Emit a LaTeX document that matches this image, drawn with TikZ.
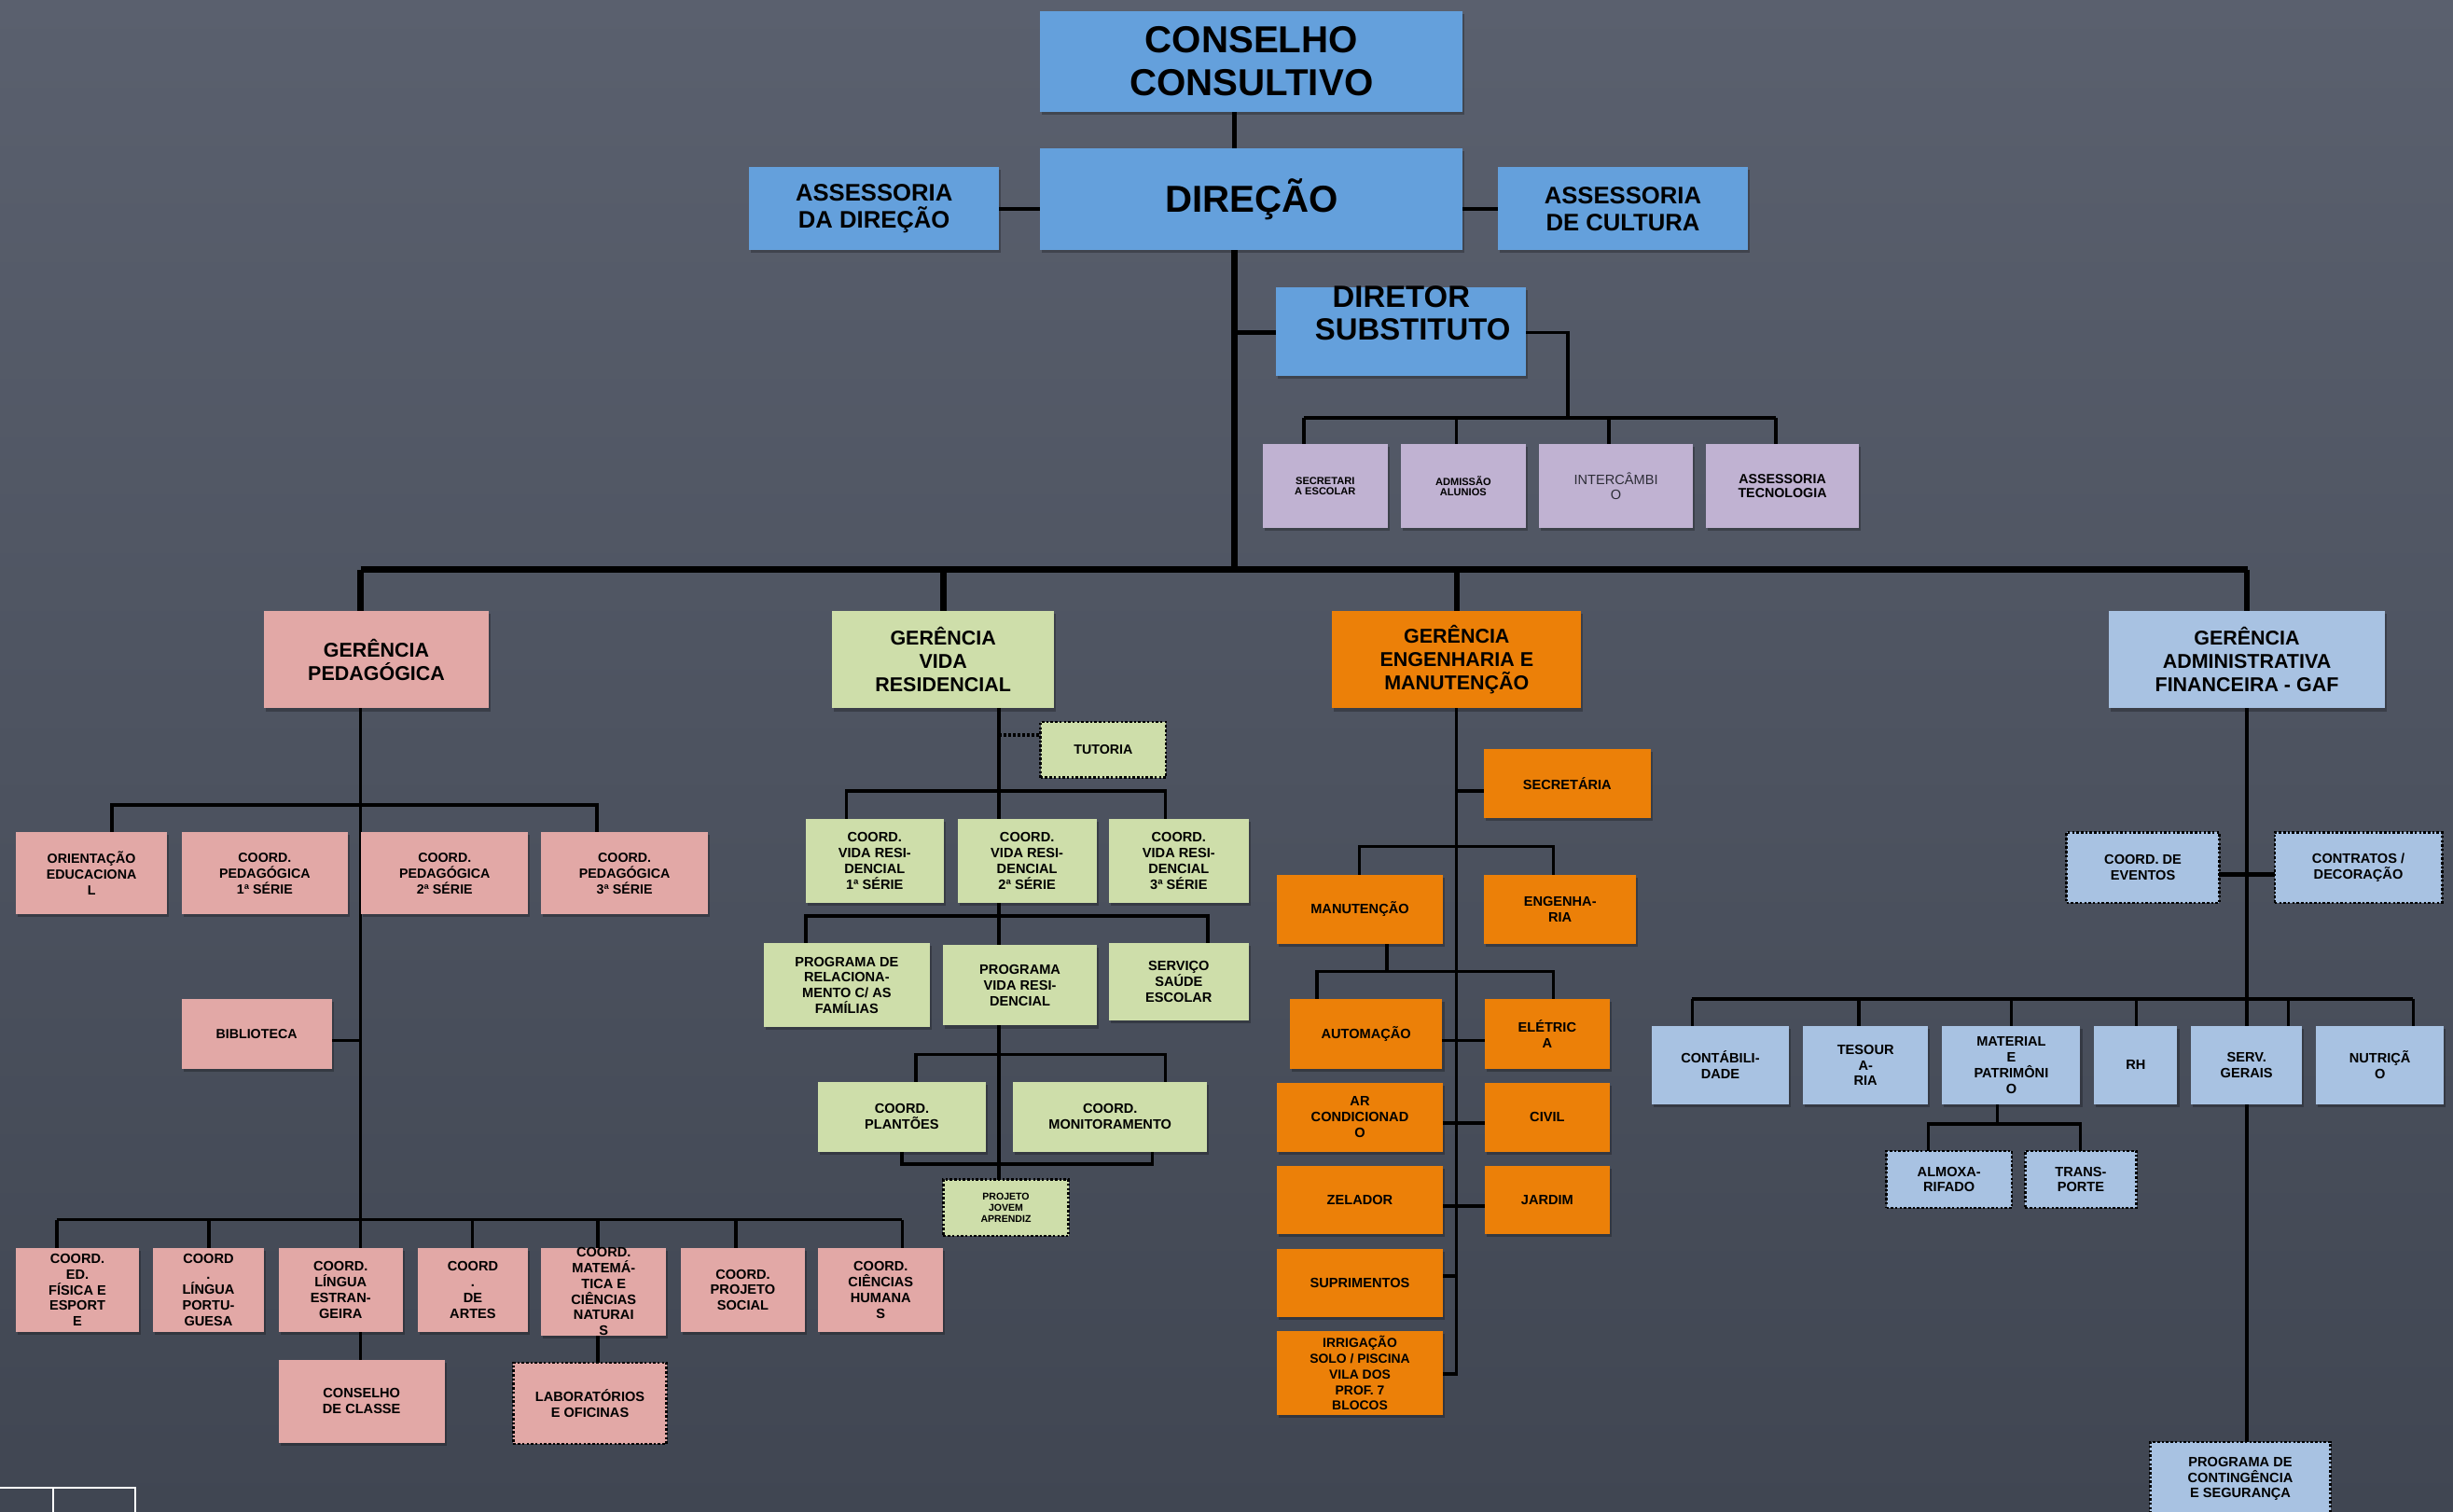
\documentclass[tikz,border=0pt]{standalone}
\usepackage{fontspec}
\setmainfont{Liberation Sans}
\usetikzlibrary{shadows}
\definecolor{cblue}{RGB}{100,160,220}
\definecolor{cpurple}{RGB}{192,178,210}
\definecolor{cpink}{RGB}{226,168,166}
\definecolor{cgreen}{RGB}{206,222,170}
\definecolor{corange}{RGB}{236,128,8}
\definecolor{clblue}{RGB}{168,194,226}
\definecolor{bgtop}{RGB}{90,96,110}
\definecolor{bgbot}{RGB}{64,70,82}
\pgfdeclarelayer{bglayer}
\pgfdeclarelayer{linelayer}
\pgfsetlayers{bglayer,linelayer,main}
\newcommand{\orgbox}[7]{\node[box,#1,anchor=north west,minimum width={(#5)-(#3)},minimum height={(#6)-(#4)}] (#2) at (#3,#4) {#7};}
\tikzset{
  box/.style={inner sep=0pt,outer sep=0pt,align=center,text=black,font=\bfseries\fontsize{8.7}{10}\selectfont},
  shad/.style={drop shadow={shadow xshift=1.2pt,shadow yshift=-1.8pt,opacity=0.25,fill=black}},
  dotbox/.style={draw=black,line width=1.5pt,dash pattern=on 1.5pt off 1.3pt},
  bluebox/.style={fill=cblue,shad},
  purpbox/.style={fill=cpurple,shad},
  pinkbox/.style={fill=cpink,shad},
  greenbox/.style={fill=cgreen,shad},
  orbox/.style={fill=corange,shad},
  lbbox/.style={fill=clblue,shad},
  pinkdot/.style={fill=cpink,dotbox},
  greendot/.style={fill=cgreen,dotbox},
  lbdot/.style={fill=clblue,dotbox},
  fbig/.style={font=\bfseries\fontsize{24}{27.7}\selectfont},
  fass/.style={font=\bfseries\fontsize{15.3}{17}\selectfont},
  fds/.style={font=\bfseries\fontsize{19.6}{22}\selectfont},
  fger/.style={font=\bfseries\fontsize{12.8}{15}\selectfont},
  fped/.style={font=\bfseries\fontsize{8.5}{10}\selectfont},
  ftiny/.style={font=\bfseries\fontsize{6.6}{6.5}\selectfont},
  fint/.style={font=\fontsize{8.7}{9.5}\selectfont,text={rgb,255:red,45;green,45;blue,55}},
  fates/.style={font=\bfseries\fontsize{8.5}{9.3}\selectfont},
  fpj/.style={font=\bfseries\fontsize{6.3}{7.3}\selectfont},
  ln/.style={draw=black,line width=2.2pt},
  lnm/.style={draw=black,line width=3pt},
  lnb/.style={draw=black,line width=4pt},
  dotln/.style={draw=black,line width=2.2pt,dash pattern=on 1.5pt off 1.5pt},
}
\begin{document}
\begin{tikzpicture}[x=1pt,y=-1pt]
\useasboundingbox (0,0) rectangle (1568,966.4);
\begin{pgfonlayer}{bglayer}
\shade[top color=bgtop,bottom color=bgbot] (0,0) rectangle (1568,966.4);
\draw[white,line width=1.5pt] (0,951) -- (86.5,951) -- (86.5,970);
\draw[white,line width=1.5pt] (34,951) -- (34,970);
\end{pgfonlayer}

% ---- top ----
\orgbox{bluebox,fbig}{cc}{665}{7}{935}{71.5}{CONSELHO\\CONSULTIVO}
\orgbox{bluebox,fbig}{dir}{665}{95}{935}{160}{DIREÇÃO}
\orgbox{bluebox,fass}{adir}{479}{107}{638.5}{160}{ASSESSORIA\\DA DIREÇÃO}
\orgbox{bluebox,fass}{acul}{957.7}{107}{1117}{160}{ASSESSORIA\\DE CULTURA}
\orgbox{bluebox}{ds}{815.6}{183.6}{975.6}{240}{}
\node[box,fds] (dst1) at (895.7,189.4) {DIRETOR};
\node[box,fds] (dst2) at (903,210.4) {SUBSTITUTO};

% ---- purple ----
\orgbox{purpbox,ftiny}{sece}{807.2}{283.8}{886.9}{337.3}{SECRETARI\\A ESCOLAR}
\orgbox{purpbox,ftiny}{adm}{895.4}{283.8}{975.3}{337.3}{ADMISSÃO\\ALUNIOS}
\orgbox{purpbox,fint}{intc}{984}{283.8}{1081.9}{337.3}{INTERCÂMBI\\O}
\orgbox{purpbox,fates}{ates}{1090.6}{283.8}{1188.1}{337.3}{ASSESSORIA\\TECNOLOGIA}

% ---- gerencias ----
\orgbox{pinkbox,fger}{gp}{168.6}{390.6}{312.6}{452.8}{GERÊNCIA\\PEDAGÓGICA}
\orgbox{greenbox,fger}{gv}{532}{390.6}{673.7}{452.8}{GERÊNCIA\\VIDA\\RESIDENCIAL}
\orgbox{orbox,fger}{ge}{851.6}{390.6}{1010.7}{452.8}{GERÊNCIA\\ENGENHARIA E\\MANUTENÇÃO}
\orgbox{lbbox,fger}{ga}{1347.8}{390.6}{1524.7}{452.8}{GERÊNCIA\\ADMINISTRATIVA\\FINANCEIRA - GAF}

% ---- pedagogica ----
\orgbox{pinkbox,fped}{ori}{10}{532}{107}{584.5}{ORIENTAÇÃO\\EDUCACIONA\\L}
\orgbox{pinkbox,fped}{cp1}{116}{532}{222.5}{584.5}{COORD.\\PEDAGÓGICA\\1ª SÉRIE}
\orgbox{pinkbox,fped}{cp2}{231}{532}{337.5}{584.5}{COORD.\\PEDAGÓGICA\\2ª SÉRIE}
\orgbox{pinkbox,fped}{cp3}{346}{532}{452.5}{584.5}{COORD.\\PEDAGÓGICA\\3ª SÉRIE}
\orgbox{pinkbox,fped}{bib}{116}{638.6}{212}{683.2}{BIBLIOTECA}
\orgbox{pinkbox}{cef}{10}{797.5}{89}{851.5}{COORD.\\ED.\\FÍSICA E\\ESPORT\\E}
\orgbox{pinkbox}{clp}{98}{797.5}{168.5}{851.5}{COORD\\.\\LÍNGUA\\PORTU-\\GUESA}
\orgbox{pinkbox}{cle}{178}{797.5}{257.5}{851.5}{COORD.\\LÍNGUA\\ESTRAN-\\GEIRA}
\orgbox{pinkbox}{car}{267}{797.5}{337.5}{851.5}{COORD\\.\\DE\\ARTES}
\orgbox{pinkbox}{cmt}{346}{797.5}{425.8}{851.5}{COORD.\\MATEMÁ-\\TICA E\\CIÊNCIAS\\NATURAI\\S}
\orgbox{pinkbox}{cps}{435}{797.5}{514.7}{851.5}{COORD.\\PROJETO\\SOCIAL}
\orgbox{pinkbox}{cch}{523}{797.5}{603}{851.5}{COORD.\\CIÊNCIAS\\HUMANA\\S}
\orgbox{pinkbox}{ccl}{178}{869}{284.3}{922.3}{CONSELHO\\DE CLASSE}
\orgbox{pinkdot}{lab}{328.2}{871}{426}{923}{LABORATÓRIOS\\E OFICINAS}

% ---- vida residencial ----
\orgbox{greendot,font=\bfseries\fontsize{8.5}{10}\selectfont}{tut}{665.2}{461.5}{745.2}{497}{TUTORIA}
\orgbox{greenbox}{cv1}{515}{523.7}{603.2}{577}{COORD.\\VIDA RESI-\\DENCIAL\\1ª SÉRIE}
\orgbox{greenbox}{cv2}{612}{523.7}{701}{577}{COORD.\\VIDA RESI-\\DENCIAL\\2ª SÉRIE}
\orgbox{greenbox}{cv3}{709}{523.7}{798}{577}{COORD.\\VIDA RESI-\\DENCIAL\\3ª SÉRIE}
\orgbox{greenbox}{pr}{488}{603}{594.5}{656.5}{PROGRAMA DE\\RELACIONA-\\MENTO C/ AS\\FAMÍLIAS}
\orgbox{greenbox}{pvr}{603}{604}{701}{655.5}{PROGRAMA\\VIDA RESI-\\DENCIAL}
\orgbox{greenbox}{sse}{709}{603}{798}{652}{SERVIÇO\\SAÚDE\\ESCOLAR}
\orgbox{greenbox}{cpl}{523}{691.7}{630}{736}{COORD.\\PLANTÕES}
\orgbox{greenbox}{cmo}{647.6}{691.7}{771.6}{736}{COORD.\\MONITORAMENTO}
\orgbox{greendot,fpj}{pjov}{603}{754}{683}{790}{PROJETO\\JOVEM\\APRENDIZ}

% ---- engenharia ----
\orgbox{orbox}{sec2}{948.5}{479}{1055}{523}{SECRETÁRIA}
\orgbox{orbox}{man}{816}{559}{922.5}{603.5}{MANUTENÇÃO}
\orgbox{orbox}{eng}{948.5}{559}{1046}{603.5}{ENGENHA-\\RIA}
\orgbox{orbox}{aut}{824.5}{638.6}{922}{683}{AUTOMAÇÃO}
\orgbox{orbox}{ele}{949}{638.6}{1029}{683}{ELÉTRIC\\A}
\orgbox{orbox}{arc}{816}{692}{922.5}{736}{AR\\CONDICIONAD\\O}
\orgbox{orbox}{civ}{949}{692}{1029}{736}{CIVIL}
\orgbox{orbox}{zel}{816}{745}{922.5}{789}{ZELADOR}
\orgbox{orbox}{jar}{949}{745}{1029}{789}{JARDIM}
\orgbox{orbox}{sup}{816}{798}{922.5}{842}{SUPRIMENTOS}
\orgbox{orbox,font=\bfseries\fontsize{8.3}{10}\selectfont}{irr}{816}{851}{922.5}{904.5}{IRRIGAÇÃO\\SOLO / PISCINA\\VILA DOS\\PROF. 7\\BLOCOS}

% ---- GAF ----
\orgbox{lbdot}{cev}{1321}{532}{1418.6}{577}{COORD. DE\\EVENTOS}
\orgbox{lbdot}{cdec}{1454}{532}{1561}{577}{CONTRATOS /\\DECORAÇÃO}
\orgbox{lbbox}{cont}{1055.6}{656}{1143.7}{705.6}{CONTÁBILI-\\DADE}
\orgbox{lbbox}{tes}{1152.7}{656}{1232.3}{705.6}{TESOUR\\A-\\RIA}
\orgbox{lbbox}{mat}{1241.5}{656}{1329.8}{705.6}{MATERIAL\\E\\PATRIMÔNI\\O}
\orgbox{lbbox}{rh}{1338.7}{656}{1391.8}{705.6}{RH}
\orgbox{lbbox}{sg}{1400.6}{656}{1471.5}{705.6}{SERV.\\GERAIS}
\orgbox{lbbox}{nut}{1480.6}{656}{1562}{705.6}{NUTRIÇÃ\\O}
\orgbox{lbdot}{alm}{1205.8}{735.6}{1286}{772}{ALMOXA-\\RIFADO}
\orgbox{lbdot}{tra}{1294.6}{735.6}{1365.6}{772}{TRANS-\\PORTE}
\orgbox{lbdot}{pcs}{1374.5}{921.6}{1489.6}{969}{PROGRAMA DE\\CONTINGÊNCIA\\E SEGURANÇA}

% ---- connectors ----
\begin{pgfonlayer}{linelayer}
\draw[lnm] (cc.south -| 789,0) -- (dir.north -| 789,0);
\draw[ln] (adir.east) -- (adir.east -| dir.west);
\draw[ln] (acul.west) -- (acul.west -| dir.east);
\draw[lnb] (dir.south -| 789,0) -- (789,364);
\draw[lnm] (789,212.5) -- (ds.west |- 0,212.5);
\draw[ln] (ds.east |- 0,212.5) -- (1002,212.5) -- (1002,267);
\draw[ln] (833.5,267) -- (1135.2,267);
\foreach \n/\x in {sece/833.5,adm/931,intc/1028.4,ates/1135.2} \draw[ln] (\x,267) -- (\n.north -| \x,0);
\draw[lnb] (230.5,364) -- (1437,364);
\foreach \n/\x in {gp/230.5,gv/603,ge/931.2,ga/1436.3} \draw[lnb] (\x,364) -- (\n.north -| \x,0);
% pedagogica
\draw[ln] (gp.south -| 230.5,0) -- (cle.north -| 230.5,0);
\draw[ln] (cle.south -| 230.5,0) -- (ccl.north -| 230.5,0);
\draw[ln] (ori.north -| 71.5,0) -- (71.5,514.5) -- (381.7,514.5) -- (cp3.north -| 381.7,0);
\draw[ln] (bib.east |- 0,665) -- (230.5,665);
\draw[ln] (36.4,779.6) -- (576.8,779.6);
\foreach \n/\x in {cef/36.4,clp/133.5,car/302,cmt/382.2,cps/470.4,cch/576.8} \draw[ln] (\x,779.6) -- (\n.north -| \x,0);
\draw[ln] (cmt.south -| 382.2,0) -- (lab.north -| 382.2,0);
% vida residencial
\draw[ln] (gv.south -| 638.6,0) -- (pjov.north -| 638.6,0);
\draw[dotln] (638.6,469.8) -- (tut.west |- 0,469.8);
\draw[ln] (cv1.north -| 541,0) -- (541,505.6) -- (745,505.6) -- (cv3.north -| 745,0);
\draw[ln] (pr.north -| 515,0) -- (515,585.6) -- (772,585.6) -- (sse.north -| 772,0);
\draw[ln] (cpl.north -| 585.6,0) -- (585.6,674) -- (745,674) -- (cmo.north -| 745,0);
\draw[ln] (cpl.south -| 576.6,0) -- (576.6,744) -- (736.6,744) -- (cmo.south -| 736.6,0);
% engenharia
\draw[ln] (ge.south -| 931,0) -- (931,878) -- (irr.east |- 0,878);
\draw[ln] (sec2.west |- 0,505.7) -- (931,505.7);
\draw[ln] (man.north -| 869,0) -- (869,541) -- (993,541) -- (eng.north -| 993,0);
\draw[ln] (man.south -| 886.7,0) -- (886.7,621);
\draw[ln] (aut.north -| 842,0) -- (842,621) -- (993,621) -- (ele.north -| 993,0);
\draw[ln] (aut.east |- 0,665) -- (ele.west |- 0,665);
\draw[ln] (arc.east |- 0,718) -- (civ.west |- 0,718);
\draw[ln] (zel.east |- 0,771) -- (jar.west |- 0,771);
\draw[ln] (sup.east |- 0,815.7) -- (931,815.7);
% GAF
\draw[ln] (ga.south -| 1436.3,0) -- (pcs.north -| 1436.3,0);
\draw[lnm] (cev.east |- 0,559) -- (cdec.west |- 0,559);
\draw[ln] (1081.7,638.5) -- (1542.6,638.5);
\foreach \n/\x in {cont/1081.7,tes/1188,mat/1285.6,rh/1365.5,sg/1462.7,nut/1542.6} \draw[ln] (\x,638.5) -- (\n.north -| \x,0);
\draw[ln] (mat.south -| 1276.7,0) -- (1276.7,718.6);
\draw[ln] (alm.north -| 1232.6,0) -- (1232.6,718.6) -- (1329.8,718.6) -- (tra.north -| 1329.8,0);
\end{pgfonlayer}
\end{tikzpicture}
\end{document}
